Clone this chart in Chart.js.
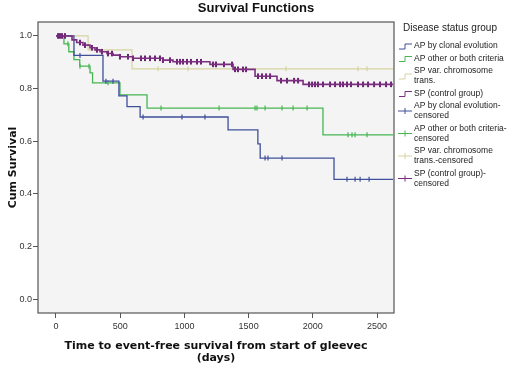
<!DOCTYPE html>
<html lang="en">
<head>
<meta charset="UTF-8">
<title>Survival Functions</title>
<script src="https://cdn.jsdelivr.net/npm/chart.js"></script>
<style>
    body { margin: 0; background: #fff; }
    #wrap { width: 520px; height: 368px; }
</style>
</head>
<body>
<div id="wrap"><canvas id="km"></canvas></div>
<script>
    // step curves: time (days) -> cum survival after the step
    const blueTimes = [0, 140, 366, 490, 553, 655, 1340, 1572, 1590, 2165, 2625];
    const blueSurv = [1.0, 0.926, 0.828, 0.772, 0.731, 0.692, 0.643, 0.59, 0.536, 0.455, 0.455];
    const greenTimes = [0, 62, 100, 140, 185, 265, 285, 498, 709, 2079, 2625];
    const greenSurv = [1.0, 0.97, 0.94, 0.91, 0.885, 0.86, 0.822, 0.776, 0.726, 0.624, 0.624];
    const paleTimes = [0, 250, 592, 2625];
    const paleSurv = [1.0, 0.947, 0.875, 0.875];
    const purpleTimes = [0, 125, 161, 210, 265, 304, 343, 397, 444, 498, 600, 833, 911, 1199, 1379, 1550, 1721, 1924, 2625];
    const purpleSurv = [1.0, 0.985, 0.975, 0.965, 0.955, 0.947, 0.94, 0.933, 0.927, 0.921, 0.915, 0.908, 0.902, 0.892, 0.873, 0.847, 0.83, 0.816, 0.816];

    // censored times
    const blueCens = [187, 389, 444, 678, 981, 1160, 1628, 1651, 1760, 2266, 2329, 2368, 2438];
    const greenCens = [93, 187, 257, 405, 818, 1270, 1550, 1565, 1628, 1760, 1846, 1955, 2274, 2305, 2329, 2422];
    const paleCens = [795, 1028, 1791, 2352, 2422];
    const purpleCens = [16, 31, 47, 70, 187, 226, 280, 319, 358, 405, 436, 498, 561, 600, 662, 693, 732, 771, 810, 833,
        888, 942, 966, 989, 1020, 1051, 1098, 1129, 1223, 1246, 1308, 1371, 1394, 1417, 1456, 1480, 1573, 1604, 1636,
        1667, 1752, 1799, 1854, 1885, 1970, 1994, 2017, 2040, 2079, 2134, 2173, 2212, 2235, 2266, 2297, 2352, 2391,
        2430, 2477, 2523, 2570, 2609];

    const xTicks = [0, 500, 1000, 1500, 2000, 2500];
    const yTicks = [0, 0.2, 0.4, 0.6, 0.8, 1.0];

    const legendTitle = 'Disease status group';
    const legendLabels = [
        ['AP by clonal evolution'],
        ['AP other or both criteria'],
        ['SP var. chromosome', 'trans.'],
        ['SP (control group)'],
        ['AP by clonal evolution-', 'censored'],
        ['AP other or both criteria-', 'censored'],
        ['SP var. chromosome', 'trans.-censored'],
        ['SP (control group)-', 'censored']
    ];

    const cores = {
        blue: '#3f4f9a',
        green: '#46b552',
        pale: '#d6d3a0',
        purple: '#7a2f80'
    };

    function curve(times, surv) {
        return times.map((t, i) => ({ x: t, y: surv[i] }));
    }

    function survAt(times, surv, t) {
        let s = surv[0];
        for (let i = 0; i < times.length; i++) if (times[i] <= t) s = surv[i];
        return s;
    }

    function censPoints(cens, times, surv) {
        return cens.map(t => ({ x: t, y: survAt(times, surv, t) }));
    }

    // 'before' in Chart.js keeps the old value until the next time, then drops
    function stepSet(data, color, width) {
        return { data, borderColor: color, borderWidth: width, stepped: 'before', showLine: true, pointRadius: 0, fill: false };
    }

    function censSet(data, color, width, r) {
        return { data, showLine: false, pointStyle: 'line', rotation: 90, pointRadius: r, borderColor: color, borderWidth: width, backgroundColor: color };
    }

    const decor = {
        id: 'decor',
        beforeDraw(chart) {
            const { ctx, chartArea: a } = chart;
            ctx.save();
            ctx.fillStyle = '#f4f4f4';
            ctx.fillRect(a.left, a.top, a.right - a.left, a.bottom - a.top);
            ctx.restore();
        },
        afterDraw(chart) {
            const { ctx, chartArea: a } = chart;
            ctx.save();
            ctx.strokeStyle = '#555';
            ctx.lineWidth = 1.2;
            ctx.strokeRect(a.left, a.top, a.right - a.left, a.bottom - a.top);

            // titles
            ctx.fillStyle = '#111';
            ctx.textAlign = 'center';
            ctx.textBaseline = 'middle';
            ctx.font = 'bold 13px "Liberation Sans", Arial, sans-serif';
            ctx.fillText('Survival Functions', 256, 8);
            ctx.font = 'bold 11px "DejaVu Sans", sans-serif';
            const cx = (a.left + a.right) / 2;
            ctx.fillText('Time to event-free survival from start of gleevec', cx, 346);
            ctx.fillText('(days)', cx, 358);
            ctx.save();
            ctx.translate(13, (a.top + a.bottom) / 2);
            ctx.rotate(-Math.PI / 2);
            ctx.fillText('Cum Survival', 0, 0);
            ctx.restore();

            // legend
            ctx.textAlign = 'left';
            ctx.fillStyle = '#222';
            ctx.font = '10px "Liberation Sans", Arial, sans-serif';
            ctx.fillText(legendTitle, 403, 28);
            ctx.font = '8.5px "Liberation Sans", Arial, sans-serif';
            const cols = [cores.blue, cores.green, cores.pale, cores.purple];
            let y = 46;
            legendLabels.forEach((lines, i) => {
                const col = cols[i % 4];
                const iy = y + (lines.length - 1) * 5;
                ctx.strokeStyle = col;
                ctx.lineWidth = 1;
                ctx.beginPath();
                if (i < 4) {
                    ctx.moveTo(399, iy + 3); ctx.lineTo(405, iy + 3); ctx.lineTo(405, iy - 2); ctx.lineTo(412, iy - 2);
                } else {
                    ctx.moveTo(398, iy); ctx.lineTo(412, iy);
                    ctx.moveTo(405, iy - 3); ctx.lineTo(405, iy + 3);
                }
                ctx.stroke();
                ctx.fillStyle = '#222';
                lines.forEach((txt, j) => ctx.fillText(txt, 414, y + j * 10));
                y += lines.length * 10 + 2.5;
            });
            ctx.restore();
        }
    };

    new Chart(document.getElementById('km').getContext('2d'), {
        type: 'scatter',
        data: {
            datasets: [
                stepSet(curve(purpleTimes, purpleSurv), cores.purple, 1.6),
                censSet(censPoints(purpleCens, purpleTimes, purpleSurv), '#6a2370', 2, 2.8),
                stepSet(curve(blueTimes, blueSurv), cores.blue, 1.3),
                censSet(censPoints(blueCens, blueTimes, blueSurv), cores.blue, 1.2, 2.5),
                stepSet(curve(greenTimes, greenSurv), cores.green, 1.3),
                censSet(censPoints(greenCens, greenTimes, greenSurv), cores.green, 1.2, 2.5),
                stepSet(curve(paleTimes, paleSurv), cores.pale, 1.2),
                censSet(censPoints(paleCens, paleTimes, paleSurv), cores.pale, 1.2, 2.5)
            ]
        },
        options: {
            responsive: true,
            maintainAspectRatio: false,
            animation: false,
            layout: { padding: { left: 0, right: 126, top: 22, bottom: 0 } },
            plugins: {
                legend: { display: false },
                tooltip: { enabled: false }
            },
            scales: {
                x: {
                    type: 'linear',
                    min: -140,
                    max: 2632,
                    afterBuildTicks: s => { s.ticks = xTicks.map(v => ({ value: v })); },
                    afterFit: s => { s.height = 55; },
                    grid: { drawOnChartArea: false, drawTicks: true, tickLength: 5, color: '#555' },
                    border: { display: false },
                    ticks: {
                        padding: 3,
                        color: '#333',
                        font: { family: '"Liberation Sans", Arial', size: 9 },
                        maxRotation: 0,
                        callback: v => String(v)
                    }
                },
                y: {
                    type: 'linear',
                    min: -0.053,
                    max: 1.053,
                    afterBuildTicks: s => { s.ticks = yTicks.map(v => ({ value: v })); },
                    afterFit: s => { s.width = 38; },
                    grid: { drawOnChartArea: false, drawTicks: true, tickLength: 5, color: '#555' },
                    border: { display: false },
                    ticks: {
                        padding: 1,
                        color: '#333',
                        font: { family: '"Liberation Sans", Arial', size: 9 },
                        callback: v => v.toFixed(1)
                    }
                }
            }
        },
        plugins: [decor]
    });
</script>
</body>
</html>
